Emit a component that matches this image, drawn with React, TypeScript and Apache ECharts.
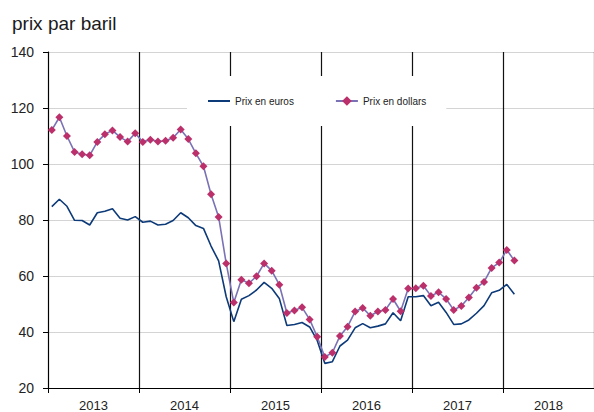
import React, { useEffect, useRef } from "react";
import * as echarts from "echarts";

const years = ["2013", "2014", "2015", "2016", "2017", "2018"];
const months: string[] = [];
years.forEach((y) => {
  for (let m = 1; m <= 12; m++) months.push(`${y}-${m < 10 ? "0" + m : m}`);
});

const euros = [
  84.8, 87.4, 84.9, 79.9, 79.8, 78.2, 82.6, 83.1, 84, 80.6, 80, 81.2,
  79.2, 79.6, 78.2, 78.5, 79.8, 82.6, 80.8, 78, 77, 70.7, 65.4, 52.6,
  43.7, 51.7, 53, 55, 57.7, 55.6, 52, 42.3, 42.7, 43.4, 41.8, 37,
  28.8, 29.4, 35, 37.1, 41.5, 43, 41.5, 42.1, 42.9, 46.9, 44, 52.6,
  52.6, 53, 49.4, 50.6, 47, 42.7, 42.9, 44.3, 46.7, 49.4, 54, 54.9,
  57, 53.5,
];

const dollars = [
  112.1, 116.7, 110, 104.3, 103.5, 103.1, 107.9, 110.6, 112, 109.6, 108, 111,
  107.9, 108.7, 108, 108.3, 109.4, 112.3, 108.9, 103.8, 99.2, 89.2, 81.1, 64.5,
  50.5, 58.7, 57.4, 59.9, 64.5, 61.9, 56.9, 46.8, 47.7, 48.8, 44.5, 38.3,
  31.1, 32.6, 38.6, 41.9, 47.3, 48.6, 45.8, 47.3, 47.9, 51.8, 47.4, 55.5,
  55.6, 56.5, 52.9, 54.2, 51.8, 47.9, 49.3, 52.3, 55.8, 57.9, 62.9, 64.8,
  69.3, 65.5,
];

const yTicks = { min: 20, max: 140, interval: 20 };

const FONT = "'Liberation Sans', Arial, sans-serif";
const EURO_COLOR = "#0d3a78";

export default function App() {
  const ref = useRef<HTMLDivElement>(null);
  useEffect(() => {
    if (!ref.current) return;
    const chart = echarts.init(ref.current, undefined, { renderer: "svg" });
    chart.setOption({
      animation: false,
      backgroundColor: "#fff",
      textStyle: { fontFamily: FONT },
      title: {
        text: "prix par baril",
        left: 7,
        top: 9,
        textStyle: { fontSize: 19, fontWeight: "normal", color: "#1a1a1a", fontFamily: FONT },
      },
      legend: {
        left: 187,
        top: 76,
        backgroundColor: "#fff",
        padding: [20, 20, 20, 21],
        itemGap: 41,
        itemWidth: 22,
        itemHeight: 12,
        textStyle: { fontSize: 10, color: "#222", fontFamily: FONT },
        z: 10,
        data: [
          { name: "Prix en euros", icon: "path://M0,0 L22,0 L22,2 L0,2 Z", itemStyle: { color: EURO_COLOR } },
          { name: "Prix en dollars" },
        ],
      },
      grid: { left: 48, top: 52, width: 547, height: 336, containLabel: false },
      xAxis: [
        {
          type: "category",
          data: years,
          boundaryGap: true,
          axisLine: { show: true, lineStyle: { color: "#000", width: 1 } },
          axisTick: { show: true, length: 5, interval: 0, lineStyle: { color: "#000" } },
          axisLabel: { fontSize: 13, color: "#222", margin: 11, fontFamily: FONT },
          splitLine: { show: true, interval: 0, lineStyle: { color: "#111", width: 1.2 } },
        },
        {
          type: "category",
          data: months,
          boundaryGap: true,
          show: false,
        },
      ],
      yAxis: {
        type: "value",
        min: yTicks.min,
        max: yTicks.max,
        interval: yTicks.interval,
        axisLine: { show: true, lineStyle: { color: "#000", width: 1 } },
        axisTick: { show: true, length: 5, lineStyle: { color: "#000" } },
        axisLabel: { fontSize: 14, color: "#222", margin: 14, fontFamily: FONT },
        splitLine: { show: true, lineStyle: { color: "#d4d4d4", width: 1.2 } },
      },
      series: [
        {
          name: "Prix en euros",
          type: "line",
          xAxisIndex: 1,
          data: euros,
          symbol: "none",
          showSymbol: false,
          lineStyle: { color: EURO_COLOR, width: 1.6 },
          itemStyle: { color: EURO_COLOR },
          z: 3,
        },
        {
          name: "Prix en dollars",
          type: "line",
          xAxisIndex: 1,
          data: dollars,
          symbol: "diamond",
          symbolSize: 8,
          showAllSymbol: true,
          lineStyle: { color: "#7a72b5", width: 1.6 },
          itemStyle: { color: "#bb2f6b", borderWidth: 0 },
          z: 4,
        },
      ],
    });
    return () => chart.dispose();
  }, []);
  return <div ref={ref} style={{ width: 594, height: 412, position: "absolute", left: 0, top: 0 }} />;
}
